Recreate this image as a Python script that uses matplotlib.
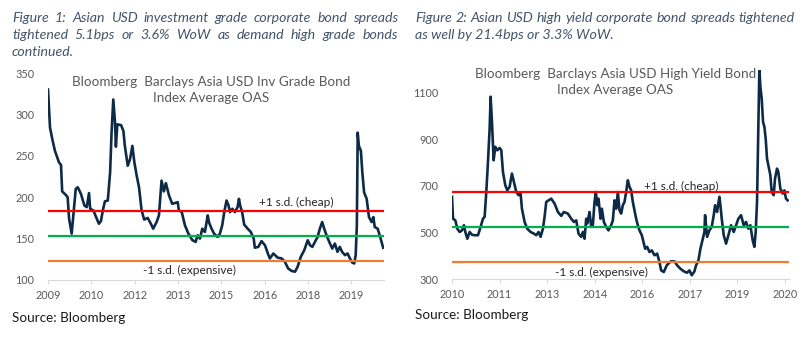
"""
Asian USD bond spread charts (IG / HY index average OAS)
"""

import numpy as np
import matplotlib
matplotlib.use('Agg')
import matplotlib.pyplot as plt

# ==================== data ====================
IG_YEARS = [2009.00, 2009.07, 2009.15, 2009.24, 2009.38, 2009.45, 2009.49, 2009.61, 2009.68,
            2009.73, 2009.82, 2009.91, 2009.96, 2010.03, 2010.14, 2010.26, 2010.34, 2010.42,
            2010.46, 2010.57, 2010.69, 2010.76, 2010.83, 2010.91, 2010.97, 2011.07, 2011.15,
            2011.20, 2011.26, 2011.32, 2011.35, 2011.40, 2011.53, 2011.61, 2011.66, 2011.76,
            2011.84, 2011.92, 2011.99, 2012.07, 2012.15, 2012.24, 2012.33, 2012.45, 2012.56,
            2012.64, 2012.76, 2012.84, 2012.93, 2013.01, 2013.08, 2013.19, 2013.30, 2013.49,
            2013.53, 2013.63, 2013.74, 2013.86, 2014.00, 2014.11, 2014.18, 2014.26, 2014.34,
            2014.43, 2014.53, 2014.57, 2014.66, 2014.75, 2014.87, 2014.95, 2015.03, 2015.10,
            2015.18, 2015.24, 2015.30, 2015.38, 2015.47, 2015.56, 2015.61, 2015.65, 2015.72,
            2015.79, 2015.91, 2016.02, 2016.12, 2016.16, 2016.28, 2016.39, 2016.51, 2016.62,
            2016.68, 2016.80, 2016.95, 2017.09, 2017.20, 2017.31, 2017.43, 2017.55, 2017.64,
            2017.75, 2017.87, 2017.99, 2018.07, 2018.15, 2018.24, 2018.33, 2018.41, 2018.49,
            2018.56, 2018.64, 2018.76, 2018.84, 2018.93, 2019.02, 2019.10, 2019.18, 2019.28,
            2019.37, 2019.45, 2019.53, 2019.60, 2019.65, 2019.69, 2019.72, 2019.76, 2019.83,
            2019.88, 2019.94, 2020.03, 2020.11, 2020.20, 2020.26, 2020.31, 2020.41, 2020.49,
            2020.60]
IG_OAS = [330, 284, 270, 256, 242, 239, 207, 203, 200,
          174, 156, 190, 210, 212, 204, 190, 188, 205,
          186, 184, 174, 168, 171, 186, 195, 196, 230,
          278, 318, 290, 261, 288, 287, 280, 262, 238,
          246, 262, 242, 226, 212, 184, 173, 175, 168,
          162, 170, 178, 220, 207, 217, 202, 192, 194,
          184, 182, 166, 156, 148, 146, 154, 150, 162,
          158, 178, 170, 162, 156, 152, 156, 166, 182,
          196, 191, 182, 186, 182, 188, 198, 190, 182,
          167, 162, 158, 150, 139, 140, 147, 142, 131,
          126, 132, 127, 126, 122, 114, 111, 110, 116,
          128, 136, 148, 142, 140, 146, 152, 162, 170,
          162, 154, 144, 138, 144, 134, 140, 134, 130,
          132, 126, 121, 120, 130, 166, 278, 262, 256,
          230, 206, 198, 176, 170, 176, 164, 162, 153,
          139]
IG_SD = [183, 153, 123]          # +1 s.d., mean, -1 s.d.
IG_TICK_LABELS = ['2009', '2010', '2012', '2013', '2015', '2016', '2018', '2019']

HY_YEARS = [2010.50, 2010.53, 2010.60, 2010.66, 2010.73, 2010.80, 2010.86, 2010.90, 2010.96,
            2011.03, 2011.10, 2011.18, 2011.28, 2011.36, 2011.43, 2011.48, 2011.53, 2011.58,
            2011.63, 2011.66, 2011.70, 2011.75, 2011.80, 2011.86, 2011.93, 2011.98, 2012.03,
            2012.10, 2012.16, 2012.23, 2012.30, 2012.36, 2012.43, 2012.50, 2012.56, 2012.60,
            2012.68, 2012.76, 2012.86, 2012.96, 2013.03, 2013.10, 2013.16, 2013.23, 2013.28,
            2013.33, 2013.40, 2013.48, 2013.58, 2013.68, 2013.78, 2013.86, 2013.98, 2014.08,
            2014.16, 2014.23, 2014.30, 2014.38, 2014.43, 2014.48, 2014.53, 2014.56, 2014.63,
            2014.68, 2014.73, 2014.78, 2014.82, 2014.86, 2014.90, 2014.96, 2015.00, 2015.06,
            2015.13, 2015.20, 2015.28, 2015.33, 2015.38, 2015.43, 2015.48, 2015.53, 2015.58,
            2015.63, 2015.68, 2015.73, 2015.78, 2015.83, 2015.88, 2015.93, 2015.98, 2016.03,
            2016.08, 2016.13, 2016.20, 2016.26, 2016.30, 2016.36, 2016.43, 2016.50, 2016.58,
            2016.66, 2016.73, 2016.78, 2016.86, 2016.95, 2017.07, 2017.18, 2017.26, 2017.36,
            2017.46, 2017.56, 2017.63, 2017.70, 2017.78, 2017.83, 2017.90, 2017.96, 2018.03,
            2018.08, 2018.10, 2018.16, 2018.23, 2018.30, 2018.36, 2018.40, 2018.46, 2018.53,
            2018.56, 2018.60, 2018.66, 2018.73, 2018.80, 2018.88, 2018.96, 2019.03, 2019.10,
            2019.18, 2019.26, 2019.33, 2019.40, 2019.46, 2019.53, 2019.58, 2019.62, 2019.66,
            2019.70, 2019.73, 2019.76, 2019.80, 2019.84, 2019.88, 2019.92, 2019.96, 2020.00,
            2020.06, 2020.10, 2020.16, 2020.20, 2020.26, 2020.30, 2020.36, 2020.43, 2020.48,
            2020.53, 2020.58]
HY_OAS = [653, 559, 552, 516, 502, 509, 531, 502, 473,
          502, 490, 488, 488, 524, 559, 567, 674, 803,
          946, 1083, 975, 810, 868, 853, 863, 853, 760,
          703, 681, 696, 753, 717, 674, 660, 667, 602,
          545, 516, 502, 495, 488, 502, 481, 516, 567,
          631, 638, 645, 624, 588, 571, 588, 581, 559,
          545, 552, 495, 481, 502, 473, 559, 538, 588,
          524, 531, 631, 674, 617, 645, 559, 602, 545,
          524, 509, 531, 552, 638, 602, 674, 595, 581,
          617, 631, 674, 724, 696, 681, 631, 595, 559,
          531, 509, 488, 452, 430, 438, 416, 423, 402,
          409, 373, 337, 330, 359, 376, 376, 359, 344,
          333, 327, 337, 316, 333, 359, 380, 430, 473,
          502, 574, 481, 509, 524, 574, 617, 588, 653,
          617, 559, 488, 452, 488, 531, 502, 531, 559,
          574, 531, 545, 516, 531, 466, 438, 502, 631,
          946, 1204, 1126, 1075, 975, 954, 903, 817, 789,
          746, 674, 660, 731, 774, 760, 688, 667, 681,
          645, 638]
HY_SD = [675, 525, 375]
HY_TICK_LABELS = ['2010', '2011', '2013', '2014', '2016', '2017', '2019', '2020']

CAPTION_1 = ['Figure 1: Asian USD investment grade corporate bond spreads',
             'tightened 5.1bps or 3.6% WoW as demand high grade bonds',
             'continued.']
CAPTION_2 = ['Figure 2: Asian USD high yield corporate bond spreads tightened',
             'as well by 21.4bps or 3.3% WoW.']

# ==================== style ====================
W, H = 807, 351
FONT = ['Lato', 'DejaVu Sans']
NAVY = '#0d2b46'
GREY = '#595959'
CAPTION_COLOR = '#44546a'
SD_COLORS = ['#ff0000', '#00b050', '#ed7d31']

plt.rcParams['font.family'] = FONT


def justified_line(fig, text, x0, x1, y, justify=True, **kw):
    """Draw one caption line, stretched between x0 and x1 (pixels)."""
    if not justify:
        fig.text(x0 / W, 1 - y / H, text, va='center', **kw)
        return
    renderer = fig.canvas.get_renderer()
    words = text.split()
    texts = [fig.text(0, 1 - y / H, w, va='center', **kw) for w in words]
    widths = [t.get_window_extent(renderer).width for t in texts]
    gap = (x1 - x0 - sum(widths)) / (len(words) - 1)
    x = x0
    for t, w in zip(texts, widths):
        t.set_x(x / W)
        x += w + gap


def draw_panel(ax, years, oas, sd, tick_labels, xlim, step, ylim, yticks, title, title_y, labels):
    """One spread chart with +/-1 s.d. bands."""
    ax.plot(years, oas, color=NAVY, lw=1.9, zorder=2, solid_joinstyle='round')
    for level, c in zip(sd, SD_COLORS):
        ax.axhline(level, color=c, lw=1.6, zorder=3)

    ax.set_xlim(xlim)
    ax.set_ylim(ylim)
    ax.set_xticks(xlim[0] + step * np.arange(len(tick_labels)))
    ax.set_xticklabels(tick_labels)
    ax.set_yticks(yticks)

    for s in ['top', 'right', 'left']:
        ax.spines[s].set_visible(False)
    ax.spines['bottom'].set_color('#d9d9d9')
    ax.tick_params(axis='x', colors='#d9d9d9', labelcolor=GREY, labelsize=7.8, length=3, pad=4)
    ax.tick_params(axis='y', length=0, labelcolor=GREY, labelsize=7.8, pad=10)

    ax.text(0.485, title_y, title, transform=ax.transAxes, ha='center', va='top',
            color=GREY, fontsize=9.7, linespacing=1.4)
    for (tx, ty, s) in labels:
        ax.text(tx, ty, s, ha='center', va='center', color='#262626', fontsize=8.6)


def main():
    fig = plt.figure(figsize=(W / 100, H / 100), dpi=100)

    ax1 = fig.add_axes([48 / W, 71 / H, 336 / W, 207 / H])
    draw_panel(ax1, IG_YEARS, IG_OAS, IG_SD, IG_TICK_LABELS,
               (2009.0, 2020.63), 1.5, (100, 350), [100, 150, 200, 250, 300, 350],
               'Bloomberg  Barclays Asia USD Inv Grade Bond\nIndex Average OAS', 0.985,
               [(2017.58, 194, '+1 s.d. (cheap)'), (2013.91, 111, '-1 s.d. (expensive)')])

    ax2 = fig.add_axes([452 / W, 72 / H, 337 / W, 209.5 / H])
    draw_panel(ax2, HY_YEARS, HY_OAS, HY_SD, HY_TICK_LABELS,
               (2010.5, 2020.62), 10 / 7, (300, 1200), [300, 500, 700, 900, 1100],
               'Bloomberg  Barclays Asia USD High Yield Bond\nIndex Average OAS', 1.008,
               [(2017.37, 696, '+1 s.d. (cheap)'), (2015.0, 330, '-1 s.d. (expensive)')])

    cap_kw = dict(color=CAPTION_COLOR, fontsize=10.2, style='italic')
    for i, line in enumerate(CAPTION_1):
        justified_line(fig, line, 12, 398, 18 + i * 17, justify=(i < 2), **cap_kw)
    for i, line in enumerate(CAPTION_2):
        justified_line(fig, line, 415, 795, 18 + i * 17, justify=(i < 1), **cap_kw)

    fig.text(12 / W, 1 - 318 / H, 'Source: Bloomberg', va='center', color='#1a1a1a', fontsize=9.7)
    fig.text(415 / W, 1 - 315 / H, 'Source: Bloomberg', va='center', color='#1a1a1a', fontsize=9.7)

    fig.savefig('out.png', dpi=100, facecolor='white')


if __name__ == '__main__':
    main()
